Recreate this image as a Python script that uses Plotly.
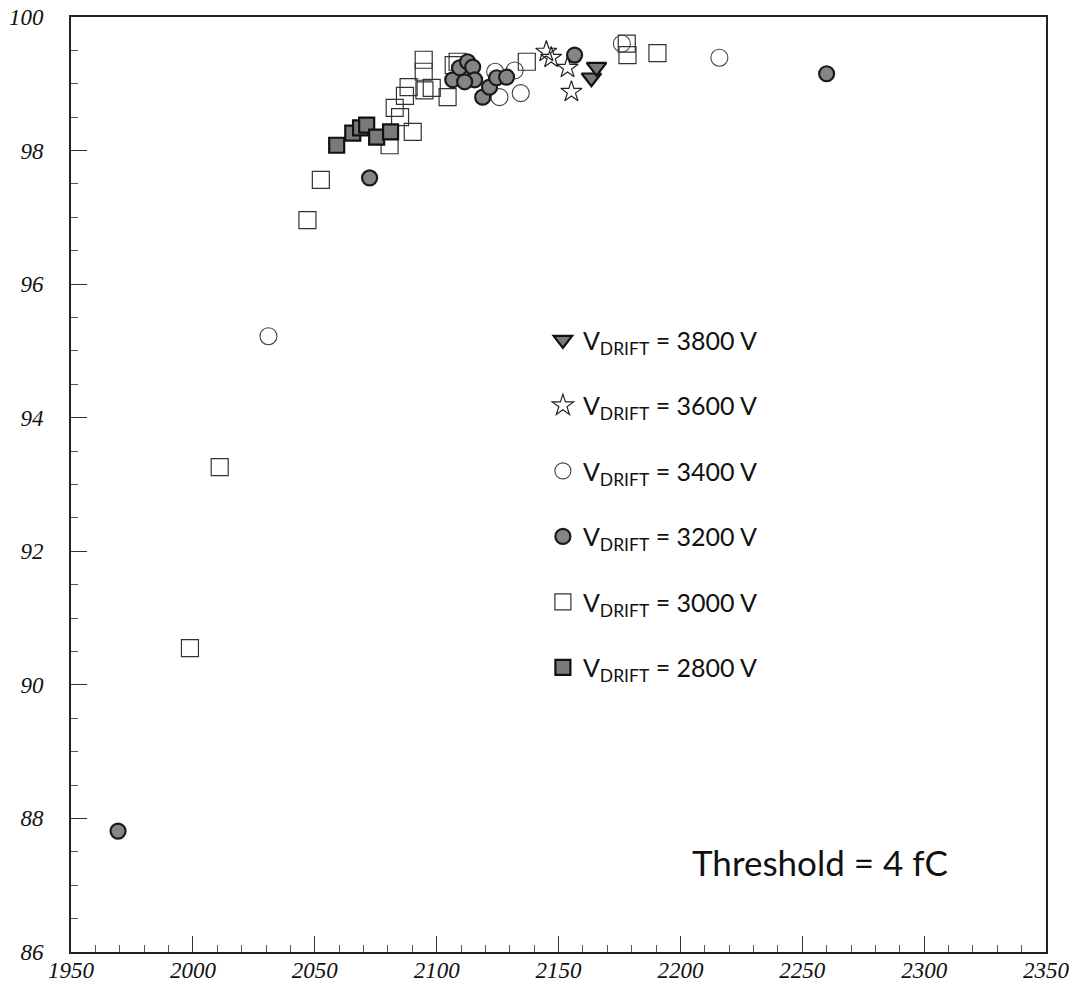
import plotly.graph_objects as go

# Efficiency (%) versus voltage for several drift voltages
v3800_x = [2163.5, 2165.6]
v3800_y = [99.09, 99.25]

v3600_x = [2145.0, 2147.0, 2153.7, 2155.3]
v3600_y = [99.48, 99.39, 99.24, 98.88]

v3400_x = [2031.0, 2124.0, 2125.8, 2132.0, 2134.5, 2176.0, 2216.0]
v3400_y = [95.22, 99.18, 98.80, 99.20, 98.86, 99.60, 99.39]

v3200_x = [1969.3, 2072.5, 2106.6, 2109.4, 2112.7, 2114.8, 2115.6, 2111.5,
           2118.9, 2121.7, 2124.6, 2128.7, 2156.6, 2260.0]
v3200_y = [87.81, 97.59, 99.06, 99.24, 99.33, 99.25, 99.06, 99.03,
           98.80, 98.95, 99.09, 99.10, 99.43, 99.15]

v3000_x = [1998.8, 2011.0, 2047.0, 2052.5, 2080.7, 2090.2, 2082.8, 2085.0,
           2087.0, 2088.5, 2094.7, 2094.7, 2095.0, 2098.0, 2104.5, 2107.0,
           2108.6, 2137.0, 2178.3, 2178.0, 2190.6]
v3000_y = [90.55, 93.26, 96.96, 97.56, 98.08, 98.28, 98.64, 98.50,
           98.82, 98.95, 99.36, 99.18, 98.90, 98.94, 98.80, 99.28,
           99.33, 99.33, 99.43, 99.60, 99.46]

v2800_x = [2059.0, 2065.6, 2068.8, 2071.3, 2075.4, 2081.1]
v2800_y = [98.08, 98.26, 98.34, 98.38, 98.20, 98.28]

x_ticks = [1950, 2000, 2050, 2100, 2150, 2200, 2250, 2300, 2350]
y_ticks = [86, 88, 90, 92, 94, 96, 98, 100]

NB = "\u00a0"


def vname(v):
    return "V<sub>DRIFT</sub>" + NB + "=" + NB + "%d V" % v


fig = go.Figure()

# drawing order: open symbols underneath, filled ones above
fig.add_trace(go.Scatter(
    x=v3000_x, y=v3000_y, mode="markers", name=vname(3000), legendrank=5,
    legendgroup="g3000",
    marker=dict(symbol="square-open", size=17, color="#333333",
                line=dict(width=1.2, color="#333333"))))
fig.add_trace(go.Scatter(
    x=v3400_x, y=v3400_y, mode="markers", name=vname(3400), legendrank=3,
    legendgroup="g3400",
    marker=dict(symbol="circle-open", size=17, color="#444444",
                line=dict(width=1.1, color="#444444"))))
fig.add_trace(go.Scatter(
    x=v3600_x, y=v3600_y, mode="markers", name=vname(3600), legendrank=2,
    legendgroup="g3600",
    marker=dict(symbol="star-open", size=16, color="#222222",
                line=dict(width=1.2, color="#222222"))))
fig.add_trace(go.Scatter(
    x=v2800_x, y=v2800_y, mode="markers", name=vname(2800), legendrank=6,
    legendgroup="g2800",
    marker=dict(symbol="square", size=15, color="#7a7a7a",
                line=dict(width=2.2, color="#111111"))))
fig.add_trace(go.Scatter(
    x=v3200_x, y=v3200_y, mode="markers", name=vname(3200), legendrank=4,
    legendgroup="g3200",
    marker=dict(symbol="circle", size=15, color="#858585",
                line=dict(width=2.2, color="#1a1a1a"))))
fig.add_trace(go.Scatter(
    x=v3800_x, y=v3800_y, mode="markers", name=vname(3800), legendrank=1,
    legendgroup="g3800",
    marker=dict(symbol="triangle-down", size=17, color="#7a7a7a",
                line=dict(width=2.2, color="#111111"))))

x_font = dict(family="Liberation Serif", size=23, color="#111111")
y_font = dict(family="Liberation Serif", size=23, color="#111111")

fig.update_xaxes(
    range=[1950, 2350], tickvals=x_ticks,
    ticktext=["<i>%d</i>" % t for t in x_ticks],
    ticks="inside", ticklen=16, tickwidth=1.2, tickcolor="#333333",
    minor=dict(ticks="inside", ticklen=7, tickwidth=1, dtick=10, tick0=1950,
               tickcolor="#555555", showgrid=False),
    showline=True, linewidth=2, linecolor="#222222", mirror=True,
    showgrid=False, zeroline=False, tickfont=x_font,
    ticklabelstandoff=-4, automargin=False)

fig.update_yaxes(
    range=[86, 100], tickvals=y_ticks,
    ticktext=["<i>%d</i>" % t for t in y_ticks],
    ticks="inside", ticklen=16, tickwidth=1.2, tickcolor="#333333",
    minor=dict(ticks="inside", ticklen=7, tickwidth=1, dtick=0.5, tick0=86,
               tickcolor="#555555", showgrid=False),
    showline=True, linewidth=2, linecolor="#222222", mirror=True,
    showgrid=False, zeroline=False, tickfont=y_font,
    ticklabelstandoff=21, automargin=False)

fig.add_annotation(
    text="Threshold" + NB + "=" + NB + "4" + NB + "fC",
    xref="paper", yref="paper",
    x=0.768, y=0.0963, xanchor="center", yanchor="middle", showarrow=False,
    font=dict(family="Lato", size=35, color="#111111"))

fig.update_layout(
    width=1083, height=986,
    margin=dict(l=71, r=37, t=17, b=34, pad=0),
    paper_bgcolor="white", plot_bgcolor="white",
    showlegend=True,
    legend=dict(x=0.484, y=0.679, xanchor="left", yanchor="top",
                bgcolor="rgba(0,0,0,0)", borderwidth=0,
                tracegroupgap=30, itemsizing="trace",
                font=dict(family="Lato", size=25, color="#111111")),
)

fig.write_html("out.html")
